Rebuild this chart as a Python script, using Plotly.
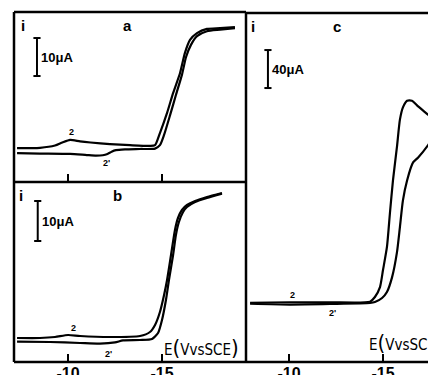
import plotly.graph_objects as go

# ---------------- data (E in V vs SCE, i in microampere) ----------------
ticks_E = [-1.0, -1.5]
tick_text = ["<b>-10</b>", "<b>-15</b>"]

E_a_fwd = [-0.729, -0.851, -0.931, -0.97, -1.011, -1.064, -1.12, -1.223, -1.330, -1.436,
           -1.463, -1.489, -1.527, -1.559, -1.596, -1.622, -1.649, -1.686, -1.739, -1.809, -1.888]
i_a_fwd = [3.1, 3.2, 3.8, 4.6, 5.3, 4.9, 4.6, 4.2, 3.9, 3.7,
           3.9, 7.1, 12.4, 17.6, 22.9, 28.2, 31.6, 33.4, 34.5, 34.7, 35.0]
E_a_rev = [-1.888, -1.809, -1.739, -1.686, -1.654, -1.628, -1.606, -1.574, -1.543, -1.511,
           -1.489, -1.463, -1.383, -1.303, -1.255, -1.232, -1.210, -1.185, -1.150, -1.100,
           -1.011, -0.851, -0.729]
i_a_rev = [34.7, 34.3, 33.9, 32.6, 30.3, 27.1, 22.4, 17.1, 11.8, 6.6,
           3.9, 3.0, 2.9, 2.8, 2.6, 2.2, 1.6, 1.25, 1.15, 1.3,
           1.6, 1.7, 1.8]

E_b_fwd = [-0.729, -0.851, -0.931, -1.000, -1.064, -1.223, -1.383, -1.436, -1.463, -1.489,
           -1.511, -1.527, -1.548, -1.569, -1.585, -1.606, -1.633, -1.676, -1.739, -1.819]
i_b_fwd = [3.0, 3.0, 3.25, 3.75, 3.5, 3.25, 3.5, 4.5, 6.25, 9.5,
           13.75, 17.5, 23.75, 30, 33, 35, 36.25, 37.25, 38.25, 39.25]
E_b_rev = [-1.819, -1.739, -1.676, -1.633, -1.612, -1.590, -1.574, -1.559, -1.537, -1.521,
           -1.500, -1.479, -1.447, -1.383, -1.293, -1.250, -1.170, -1.064, -0.904, -0.729]
i_b_rev = [39.1, 38.0, 37.0, 35.75, 34.5, 32.0, 28.75, 23.75, 17.5, 12.5,
           7.5, 4.25, 2.75, 2.5, 2.4, 1.9, 1.6, 1.75, 2.0, 2.1]

E_c_fwd = [-0.793, -1.005, -1.218, -1.431, -1.457, -1.484, -1.500, -1.521, -1.537, -1.553,
           -1.574, -1.590, -1.606, -1.628, -1.654, -1.681, -1.723, -1.777, -1.81]
i_c_fwd = [0.3, 0.8, 0.8, 1.4, 6.3, 16.8, 34.7, 59, 95, 129,
           164, 193, 206, 213, 213, 208, 201, 192, 185]
E_c_rev = [-1.81, -1.782, -1.739, -1.686, -1.660, -1.628, -1.606, -1.590, -1.574, -1.548,
           -1.521, -1.495, -1.457, -1.431, -1.218, -1.005, -0.793]
i_c_rev = [183, 180, 166, 153, 148, 129, 108, 80, 53, 27,
           11.6, 5.3, 1.0, 0, -1.0, -1.6, -0.8]

# scale bars: (E position, lower current, length in microampere, label)
bar_a = (-0.835, 22.1, 10, "10μA")
bar_b = (-0.839, 27.25, 10, "10μA")
bar_c = (-0.888, 226.3, 40, "40μA")

# peak labels: (E, i)
peak_a = [(-1.021, 7.3, "2"), (-1.207, -0.9, "2'")]
peak_b = [(-1.027, 5.4, "2"), (-1.213, -0.9, "2'")]
peak_c = [(-1.016, 8.8, "2"), (-1.229, -11.0, "2'")]

# ---------------- figure ----------------
# the page body has an 8px margin, so the figure starts at (8, 8)
OFF = 8
W, H = 436 - OFF, 375 - OFF
def px(x):
    return (x - OFF) / W
def py(y):
    return 1 - (y - OFF) / H

fig = go.Figure()
for E, i, xa, ya in [(E_a_fwd, i_a_fwd, "x", "y"), (E_a_rev, i_a_rev, "x", "y"),
                     (E_b_fwd, i_b_fwd, "x2", "y2"), (E_b_rev, i_b_rev, "x2", "y2"),
                     (E_c_fwd, i_c_fwd, "x3", "y3"), (E_c_rev, i_c_rev, "x3", "y3")]:
    fig.add_trace(go.Scatter(x=E, y=i, xaxis=xa, yaxis=ya, mode="lines",
                             line=dict(color="black", width=2.2, shape="spline", smoothing=0.6),
                             showlegend=False, hoverinfo="skip"))

common_x = dict(showgrid=False, zeroline=False, showline=False, ticks="inside",
                ticklen=8, tickwidth=2, tickcolor="black", tickvals=ticks_E,
                ticktext=tick_text, automargin=False,
                tickfont=dict(family="Liberation Sans", size=16, color="black"))
common_y = dict(showgrid=False, zeroline=False, showline=False, showticklabels=False,
                ticks="", automargin=False)

fig.update_layout(
    width=W, height=H, margin=dict(l=0, r=0, t=0, b=0),
    paper_bgcolor="white", plot_bgcolor="white", template="none",
    xaxis=dict(common_x, domain=[px(14), px(246)], range=[-0.7128, -1.9468],
               anchor="y", showticklabels=False),
    yaxis=dict(common_y, domain=[py(182), py(12)], range=[-5.79, 38.95], anchor="x"),
    xaxis2=dict(common_x, domain=[px(14), px(246)], range=[-0.7128, -1.9468], anchor="y2"),
    yaxis2=dict(common_y, domain=[py(362), py(182)], range=[-3.0, 42.0], anchor="x2"),
    xaxis3=dict(common_x, domain=[px(246), 1.0], range=[-0.7713, -1.7819], anchor="y3"),
    yaxis3=dict(common_y, domain=[py(362), py(13)], range=[-62.1, 305.3], anchor="x3"),
)

# panel borders
bw = 2.5
for (x0, y0, x1, y1) in [(14, 12, 246, 12), (246, 13, 436, 13), (14, 12, 14, 362),
                         (246, 12, 246, 362), (14, 182, 246, 182), (14, 362, 436, 362)]:
    fig.add_shape(type="line", xref="paper", yref="paper", x0=px(x0), y0=py(y0),
                  x1=px(x1), y1=py(y1), line=dict(color="black", width=bw))

# scale bars
for (E0, i0, L, lab), xa, ya, cap in [(bar_a, "x", "y", 0.019), (bar_b, "x2", "y2", 0.019),
                                      (bar_c, "x3", "y3", 0.019)]:
    fig.add_shape(type="line", xref=xa, yref=ya, x0=E0, x1=E0, y0=i0, y1=i0 + L,
                  line=dict(color="black", width=2))
    for yy in (i0, i0 + L):
        fig.add_shape(type="line", xref=xa, yref=ya, x0=E0 + cap, x1=E0 - cap, y0=yy, y1=yy,
                      line=dict(color="black", width=2))
    fig.add_annotation(x=E0 - 0.012, y=i0 + L / 2, xref=xa, yref=ya, text="<b>" + lab + "</b>",
                       showarrow=False, xanchor="left", yanchor="middle",
                       font=dict(family="Liberation Sans", size=13, color="black"))

# peak labels
for peaks, xa, ya in [(peak_a, "x", "y"), (peak_b, "x2", "y2"), (peak_c, "x3", "y3")]:
    for E, i, t in peaks:
        fig.add_annotation(x=E, y=i, xref=xa, yref=ya, text="<b>" + t + "</b>", showarrow=False,
                           font=dict(family="Liberation Sans", size=9, color="black"))

# panel letters and axis labels
txt = [(23, 25, "i"), (127, 25, "a"), (21, 195, "i"), (117, 195, "b"),
       (253, 27, "i"), (337, 26, "c")]
for x, y, t in txt:
    fig.add_annotation(x=px(x), y=py(y), xref="paper", yref="paper", text="<b>" + t + "</b>",
                       showarrow=False, xanchor="center", yanchor="middle",
                       font=dict(family="Liberation Sans", size=15, color="black"))

elab = 'E<span style="font-size:22px">(</span>VvsSCE<span style="font-size:22px">)</span>'
for x, y in [(162, 347), (367, 342)]:
    fig.add_annotation(x=px(x), y=py(y), xref="paper", yref="paper", text=elab,
                       showarrow=False, xanchor="left", yanchor="middle",
                       font=dict(family="DejaVu Sans Condensed, Liberation Sans Narrow, Liberation Sans",
                                 size=15, color="black"))

fig.write_html("out.html")
